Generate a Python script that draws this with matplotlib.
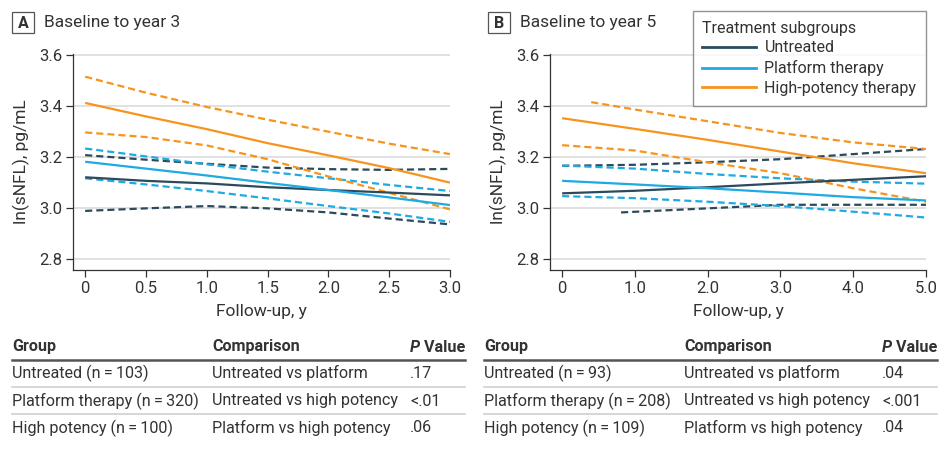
import matplotlib
matplotlib.use('Agg')
import matplotlib.pyplot as plt
from matplotlib.lines import Line2D
from matplotlib.patches import Rectangle

plt.rcParams['font.family'] = ['Roboto', 'DejaVu Sans']

# colours
c_untreated = '#2c4a5b'
c_platform = '#1eaae2'
c_high = '#f7941d'

# panel A: baseline to year 3
x_a = [0, 0.5, 1.0, 1.5, 2.0, 2.5, 3.0]
a_high = [3.413, 3.36, 3.31, 3.255, 3.207, 3.157, 3.10]
a_high_hi = [3.516, 3.453, 3.397, 3.347, 3.30, 3.253, 3.212]
a_high_lo = [3.297, 3.279, 3.246, 3.192, 3.124, 3.06, 2.995]
a_plat = [3.182, 3.155, 3.128, 3.099, 3.071, 3.042, 3.012]
a_plat_hi = [3.234, 3.203, 3.172, 3.143, 3.117, 3.091, 3.067]
a_plat_lo = [3.117, 3.093, 3.067, 3.038, 3.008, 2.979, 2.946]
a_untr = [3.121, 3.107, 3.097, 3.082, 3.071, 3.061, 3.05]
a_untr_hi = [3.208, 3.19, 3.174, 3.159, 3.153, 3.15, 3.154]
a_untr_lo = [2.989, 2.999, 3.008, 2.999, 2.983, 2.959, 2.936]

# panel B: baseline to year 5
x_b = [0, 1.0, 2.0, 3.0, 4.0, 5.0]
b_high = [3.353, 3.311, 3.268, 3.222, 3.176, 3.137]
x_b_high_hi = [0.4, 1.0, 2.0, 3.0, 4.0, 5.0]
b_high_hi = [3.416, 3.387, 3.341, 3.295, 3.258, 3.232]
b_high_lo = [3.247, 3.226, 3.18, 3.137, 3.078, 3.025]
b_plat = [3.107, 3.093, 3.078, 3.061, 3.043, 3.03]
b_plat_hi = [3.167, 3.155, 3.134, 3.117, 3.104, 3.096]
b_plat_lo = [3.047, 3.039, 3.025, 3.008, 2.986, 2.963]
b_untr = [3.058, 3.068, 3.082, 3.097, 3.111, 3.125]
b_untr_hi = [3.166, 3.17, 3.18, 3.192, 3.212, 3.232]
x_b_untr_lo = [0.81, 2.0, 3.0, 4.0, 5.0]
b_untr_lo = [2.983, 2.999, 3.013, 3.013, 3.013]

yticks = [2.8, 3.0, 3.2, 3.4, 3.6]
xticks_a = [0, 0.5, 1.0, 1.5, 2.0, 2.5, 3.0]
xtick_labels_a = ['0', '0.5', '1.0', '1.5', '2.0', '2.5', '3.0']
xticks_b = [0, 1, 2, 3, 4, 5]
xtick_labels_b = ['0', '1.0', '2.0', '3.0', '4.0', '5.0']

legend_labels = ['Untreated', 'Platform therapy', 'High-potency therapy']

# tables
table_header = ['Group', 'Comparison', 'Value']
groups_a = ['Untreated (n\u2009=\u2009103)', 'Platform therapy (n\u2009=\u2009320)', 'High potency (n\u2009=\u2009100)']
groups_b = ['Untreated (n\u2009=\u200993)', 'Platform therapy (n\u2009=\u2009208)', 'High potency (n\u2009=\u2009109)']
comparisons = ['Untreated vs platform', 'Untreated vs high potency', 'Platform vs high potency']
pvals_a = ['.17', '<.01', '.06']
pvals_b = ['.04', '<.001', '.04']

W, H = 939, 455
fig = plt.figure(figsize=(W / 100, H / 100), dpi=100)

ax_a = fig.add_axes([73 / W, 1 - 270 / H, (450 - 73) / W, (270 - 54) / H])
ax_b = fig.add_axes([550 / W, 1 - 270 / H, (926 - 550) / W, (270 - 54) / H])

dash = (0, (3.2, 1.8))
lw = 1.6
txt_col = '#333333'


def draw(ax, series):
    for xs, ys, col, ls in series:
        ax.plot(xs, ys, color=col, lw=lw, linestyle=ls, solid_capstyle='butt',
                dash_capstyle='butt', zorder=3)


draw(ax_a, [
    (x_a, a_untr_hi, c_untreated, dash), (x_a, a_untr_lo, c_untreated, dash),
    (x_a, a_plat_hi, c_platform, dash), (x_a, a_plat_lo, c_platform, dash),
    (x_a, a_high_hi, c_high, dash), (x_a, a_high_lo, c_high, dash),
    (x_a, a_untr, c_untreated, '-'), (x_a, a_plat, c_platform, '-'),
    (x_a, a_high, c_high, '-'),
])
draw(ax_b, [
    (x_b, b_untr_hi, c_untreated, dash), (x_b_untr_lo, b_untr_lo, c_untreated, dash),
    (x_b, b_plat_hi, c_platform, dash), (x_b, b_plat_lo, c_platform, dash),
    (x_b_high_hi, b_high_hi, c_high, dash), (x_b, b_high_lo, c_high, dash),
    (x_b, b_untr, c_untreated, '-'), (x_b, b_plat, c_platform, '-'),
    (x_b, b_high, c_high, '-'),
])

for ax, xt, xl, xmax in [(ax_a, xticks_a, xtick_labels_a, 3.0),
                          (ax_b, xticks_b, xtick_labels_b, 5.0)]:
    ax.set_xlim(-xmax / 30, xmax)
    ax.set_ylim(2.757, 3.605)
    ax.set_yticks(yticks)
    ax.set_yticklabels([f'{v:.1f}' for v in yticks])
    ax.set_xticks(xt)
    ax.set_xticklabels(xl)
    ax.spines['top'].set_visible(False)
    ax.spines['right'].set_visible(False)
    for s in ('left', 'bottom'):
        ax.spines[s].set_color(txt_col)
        ax.spines[s].set_linewidth(0.9)
    ax.tick_params(axis='both', direction='out', length=5, width=0.9,
                   color=txt_col, labelsize=12, labelcolor=txt_col, pad=3)
    ax.grid(axis='y', color='#dcdcdc', lw=1.2, zorder=0)
    ax.set_axisbelow(True)
    ax.set_xlabel('Follow-up, y', fontsize=12.5, color=txt_col, labelpad=6)
    ax.set_ylabel('ln(sNFL), pg/mL', fontsize=12.5, color=txt_col, labelpad=6)

# panel titles
for letter, title, x0 in [('A', 'Baseline to year 3', 12), ('B', 'Baseline to year 5', 488)]:
    fig.patches.append(Rectangle((x0 / W, 1 - 33 / H), 22 / W, 21 / H,
                                 transform=fig.transFigure, fill=False,
                                 edgecolor='#555555', lw=0.9))
    fig.text((x0 + 11) / W, 1 - 23 / H, letter, ha='center', va='center',
             fontsize=11.5, fontweight='bold', color=txt_col)
    fig.text((x0 + 32) / W, 1 - 23 / H, title, ha='left', va='center',
             fontsize=12.5, color=txt_col)

# legend
handles = [Line2D([], [], color=c, lw=2) for c in (c_untreated, c_platform, c_high)]
leg = ax_b.legend(handles, legend_labels, title='Treatment subgroups',
                  loc='upper right', bbox_to_anchor=(926 / W, 1 - 11 / H),
                  bbox_transform=fig.transFigure, fontsize=11.5, title_fontsize=11.5,
                  frameon=True, fancybox=False, edgecolor='#777777',
                  handlelength=3.4, handletextpad=0.5, labelspacing=0.3,
                  borderpad=0.6, alignment='left', borderaxespad=0)
leg.get_frame().set_linewidth(1.0)
for t in leg.get_texts():
    t.set_color(txt_col)
leg.get_title().set_color(txt_col)

# tables
row_y = [373, 401, 428]
fs = 11.6
for x0, x1, groups, pvals in [(12, 465, groups_a, pvals_a), (484, 937, groups_b, pvals_b)]:
    col_x = [x0, x0 + 200, x0 + 398]
    fig.text(col_x[0] / W, 1 - 347 / H, table_header[0], fontsize=fs,
             fontweight='bold', color=txt_col, va='center')
    fig.text(col_x[1] / W, 1 - 347 / H, table_header[1], fontsize=fs,
             fontweight='bold', color=txt_col, va='center')
    p_txt = fig.text(col_x[2] / W, 1 - 347 / H, 'P', fontsize=fs, fontweight='bold',
                     fontstyle='italic', color=txt_col, va='center')
    fig.add_artist(plt.Annotation(' ' + table_header[2], xy=(1, 0.5), xycoords=p_txt,
                                  va='center', ha='left', fontsize=fs,
                                  fontweight='bold', color=txt_col))
    fig.add_artist(Line2D([x0 / W, x1 / W], [1 - 360 / H] * 2, color='#555555', lw=1.8))
    for yy in (387, 414):
        fig.add_artist(Line2D([x0 / W, x1 / W], [1 - yy / H] * 2, color='#d0d0d0', lw=1.2))
    for i, y in enumerate(row_y):
        for cx, txt in zip(col_x, [groups[i], comparisons[i], pvals[i]]):
            fig.text(cx / W, 1 - y / H, txt, fontsize=fs, color=txt_col, va='center')

fig.savefig('out.png', dpi=100)
